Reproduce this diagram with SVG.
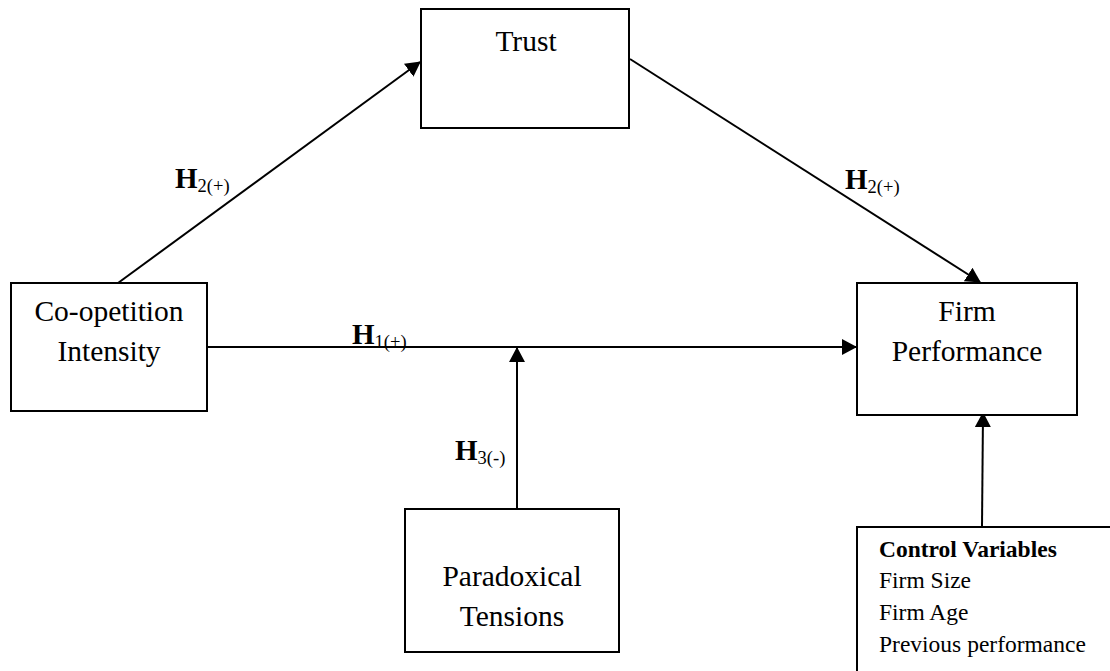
<svg xmlns="http://www.w3.org/2000/svg" width="1110" height="671" viewBox="0 0 1110 671">
<style>
.box{fill:#fff;stroke:#000;stroke-width:2}
.lbl{font-family:"Liberation Serif","Times New Roman",serif;font-size:29.5px;fill:#000;text-anchor:middle}
.cv{font-family:"Liberation Serif","Times New Roman",serif;font-size:23.5px;fill:#000}
.h{font-family:"Liberation Serif","Times New Roman",serif;font-size:29px;font-weight:bold;fill:#000}
.sub{font-size:18.5px;font-weight:normal}
.edge{fill:none;stroke:#000;stroke-width:2}
</style>
<defs>
<marker id="arr" markerUnits="userSpaceOnUse" markerWidth="16" markerHeight="16" refX="14" refY="8" orient="auto">
<path d="M0,0 L15,8 L0,16 Z" fill="#000"/>
</marker>
</defs>
<rect width="1110" height="671" fill="#fff"/>
<g id="connectors">
<line class="edge" x1="118" y1="283" x2="420" y2="62" marker-end="url(#arr)"/>
<line class="edge" x1="630" y1="59" x2="980" y2="282" marker-end="url(#arr)"/>
<line class="edge" x1="207" y1="347" x2="856" y2="347" marker-end="url(#arr)"/>
<line class="edge" x1="517" y1="509" x2="517" y2="348" marker-end="url(#arr)"/>
<line class="edge" x1="982" y1="527" x2="983" y2="413" marker-end="url(#arr)"/>
</g>
<g id="trust">
<rect class="box" x="421" y="9" width="208" height="119"/>
<text class="lbl" x="526" y="51">Trust</text>
</g>
<g id="coopetition">
<rect class="box" x="11" y="283" width="196" height="128"/>
<text class="lbl" x="109" y="321">Co-opetition</text>
<text class="lbl" x="109" y="361">Intensity</text>
</g>
<g id="firm-performance">
<rect class="box" x="857" y="283" width="220" height="132"/>
<text class="lbl" x="967" y="321">Firm</text>
<text class="lbl" x="967" y="361">Performance</text>
</g>
<g id="paradoxical">
<rect class="box" x="405" y="509" width="214" height="143"/>
<text class="lbl" x="512" y="586">Paradoxical</text>
<text class="lbl" x="512" y="626">Tensions</text>
</g>
<g id="controls">
<path class="edge" d="M857,671 V527 H1112"/>
<text class="cv" x="879" y="557" font-weight="bold" font-size="20.5">Control Variables</text>
<text class="cv" x="879" y="588">Firm Size</text>
<text class="cv" x="879" y="620">Firm Age</text>
<text class="cv" x="879" y="652">Previous performance</text>
</g>
<g id="labels">
<text class="h" x="175" y="188">H<tspan class="sub" dy="4">2(+)</tspan></text>
<text class="h" x="845" y="189">H<tspan class="sub" dy="4">2(+)</tspan></text>
<text class="h" x="352" y="344">H<tspan class="sub" dy="4">1(+)</tspan></text>
<text class="h" x="455" y="460">H<tspan class="sub" dy="4">3(-)</tspan></text>
</g>
</svg>
